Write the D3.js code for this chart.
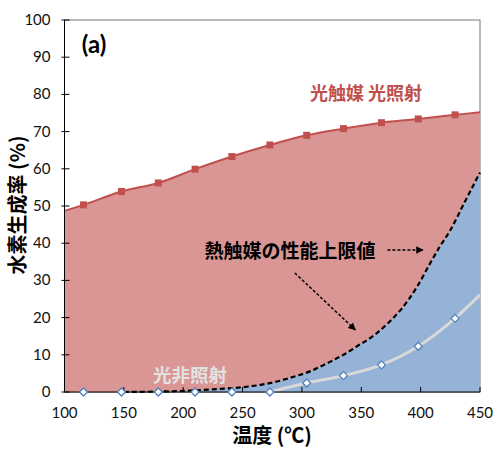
<!DOCTYPE html>
<html>
<head>
<meta charset="utf-8">
<script src="https://cdn.jsdelivr.net/npm/d3@7"></script>
<style>
  body { margin: 0; background: #fff; }
  svg { display: block; }
  .tick-label { font-family: Lato, "Noto Sans", sans-serif; font-size: 15px; fill: #111; }
  .jp { font-family: "Noto Sans CJK JP", sans-serif; font-weight: bold; }
</style>
</head>
<body>
<svg id="chart" width="500" height="451"></svg>
<script>
// measured points (temperature, °C)
const temps = [116, 148, 179, 210, 241, 273, 304, 335, 367, 398, 429];
const photoLight = [50.3, 53.9, 56.2, 59.9, 63.3, 66.4, 69.0, 70.8, 72.4, 73.4, 74.5];
const photoDark = [0, 0, 0, 0, 0, 0, 2.4, 4.4, 7.3, 12.3, 19.8];

// fitted curve ends at the plot edges
const lightStart = 48.7;
const lightEnd = 75.2;
const darkEnd = 26.1;

// thermal catalyst upper limit (dashed curve)
const limitT = [150, 175, 200, 225, 250, 265, 280, 293, 308, 321, 335, 346, 363, 375, 383, 397, 408, 416, 425, 437, 450];
const limitV = [0, 0.1, 0.3, 0.7, 1.3, 1.9, 2.9, 4.1, 5.7, 7.7, 10, 12.2, 15.8, 19.3, 22, 28.3, 34.6, 39, 43.5, 51, 59];

const xTicks = [100, 150, 200, 250, 300, 350, 400, 450];
const yTicks = [0, 10, 20, 30, 40, 50, 60, 70, 80, 90, 100];

const svg = d3.select('#chart');
const plotL = 64.5, plotR = 480, plotT = 20, plotB = 392;

const x = d3.scaleLinear().domain([100, 450]).range([plotL, plotR]);
const y = d3.scaleLinear().domain([0, 100]).range([plotB, plotT]);

const lightCurve = [[100, lightStart]].concat(temps.map((t, i) => [t, photoLight[i]]), [[450, lightEnd]]);
const darkCurve = temps.map((t, i) => [t, photoDark[i]]).filter((d, i) => i >= 5).concat([[450, darkEnd]]);
const limitCurve = limitT.map((t, i) => [t, limitV[i]]);

// frame
svg.append('rect')
	.attr('x', plotL).attr('y', plotT)
	.attr('width', plotR - plotL).attr('height', plotB - plotT)
	.attr('fill', 'none')
	.attr('stroke', '#777')
	.attr('stroke-width', 1);

// red area
svg.append('path')
	.datum(lightCurve)
	.attr('fill', '#d99694')
	.attr('d', d3.area().x(d => x(d[0])).y0(y(0)).y1(d => y(d[1])).curve(d3.curveCatmullRom));

svg.append('path')
	.datum(lightCurve)
	.attr('fill', 'none')
	.attr('stroke', '#c0504d')
	.attr('stroke-width', 2)
	.attr('d', d3.line().x(d => x(d[0])).y(d => y(d[1])).curve(d3.curveCatmullRom));

// blue area under the limit
svg.append('path')
	.datum(limitCurve)
	.attr('fill', '#95b3d7')
	.attr('d', d3.area().x(d => x(d[0])).y0(y(0)).y1(d => y(d[1])).curve(d3.curveMonotoneX));

svg.append('path')
	.datum(limitCurve)
	.attr('fill', 'none')
	.attr('stroke', '#000')
	.attr('stroke-width', 2.2)
	.attr('stroke-dasharray', '5,3')
	.attr('d', d3.line().x(d => x(d[0])).y(d => y(d[1])).curve(d3.curveMonotoneX));

svg.append('path')
	.datum(darkCurve)
	.attr('fill', 'none')
	.attr('stroke', '#d9d9d9')
	.attr('stroke-width', 3)
	.attr('d', d3.line().x(d => x(d[0])).y(d => y(d[1])).curve(d3.curveMonotoneX));

// axes
const yAxis = svg.append('g').attr('transform', 'translate(' + plotL + ',0)');
yAxis.append('line')
	.attr('y1', plotT).attr('y2', plotB)
	.attr('stroke', '#000');
yAxis.selectAll('.yt')
	.data(yTicks)
	.enter()
	.append('line')
	.attr('x1', -3).attr('x2', 5)
	.attr('y1', d => y(d)).attr('y2', d => y(d))
	.attr('stroke', '#000');
yAxis.selectAll('text')
	.data(yTicks)
	.enter()
	.append('text')
	.attr('class', 'tick-label')
	.attr('x', -14)
	.attr('y', d => y(d) + 5)
	.attr('text-anchor', 'end')
	.text(d => d);

const xAxis = svg.append('g').attr('transform', 'translate(0,' + plotB + ')');
xAxis.append('line')
	.attr('x1', plotL).attr('x2', plotR)
	.attr('stroke', '#000');
xAxis.selectAll('.xt')
	.data(xTicks)
	.enter()
	.append('line')
	.attr('x1', d => x(d)).attr('x2', d => x(d))
	.attr('y1', 0).attr('y2', -5)
	.attr('stroke', '#000');
xAxis.selectAll('text')
	.data(xTicks)
	.enter()
	.append('text')
	.attr('class', 'tick-label')
	.attr('x', d => x(d))
	.attr('y', 26)
	.attr('text-anchor', 'middle')
	.text(d => d);

// markers
svg.selectAll('.sq')
	.data(temps)
	.enter()
	.append('rect')
	.attr('x', d => x(d) - 3.5)
	.attr('y', (d, i) => y(photoLight[i]) - 3.5)
	.attr('width', 7).attr('height', 7)
	.attr('fill', '#c0504d');

svg.selectAll('.dm')
	.data(temps)
	.enter()
	.append('path')
	.attr('transform', (d, i) => 'translate(' + x(d) + ',' + y(photoDark[i]) + ')')
	.attr('d', 'M0,-4L4,0L0,4L-4,0Z')
	.attr('fill', '#fff')
	.attr('stroke', '#4f81bd')
	.attr('stroke-width', 1.3);

// annotations
svg.append('defs').append('marker')
	.attr('id', 'arr')
	.attr('viewBox', '0 0 10 10')
	.attr('refX', 9).attr('refY', 5)
	.attr('markerWidth', 5).attr('markerHeight', 5)
	.attr('orient', 'auto')
	.append('path')
	.attr('d', 'M0,0L10,5L0,10Z')
	.attr('fill', '#000');

svg.append('line')
	.attr('x1', x(372)).attr('y1', y(38.2))
	.attr('x2', x(402)).attr('y2', y(38.2))
	.attr('stroke', '#000').attr('stroke-width', 1.5)
	.attr('stroke-dasharray', '3,2')
	.attr('marker-end', 'url(#arr)');

svg.append('line')
	.attr('x1', x(294)).attr('y1', y(32))
	.attr('x2', x(345)).attr('y2', y(16.7))
	.attr('stroke', '#000').attr('stroke-width', 1.5)
	.attr('stroke-dasharray', '3,2')
	.attr('marker-end', 'url(#arr)');

svg.append('text')
	.attr('x', 94).attr('y', 53)
	.attr('text-anchor', 'middle')
	.style('font-family', 'Lato, sans-serif')
	.style('font-weight', 'bold')
	.style('font-size', '24px')
	.text('(a)');

svg.append('text')
	.attr('class', 'jp')
	.attr('x', 366).attr('y', 100)
	.attr('text-anchor', 'middle')
	.style('font-size', '18px')
	.attr('fill', '#c0504d')
	.text('光触媒 光照射');

svg.append('text')
	.attr('class', 'jp')
	.attr('x', 290).attr('y', 258)
	.attr('text-anchor', 'middle')
	.style('font-size', '19px')
	.attr('fill', '#000')
	.text('熱触媒の性能上限値');

svg.append('text')
	.attr('class', 'jp')
	.attr('x', 190).attr('y', 382)
	.attr('text-anchor', 'middle')
	.style('font-size', '18.5px')
	.attr('fill', '#e2e2e2')
	.text('光非照射');

svg.append('text')
	.attr('class', 'jp')
	.attr('x', 272).attr('y', 443)
	.attr('text-anchor', 'middle')
	.style('font-size', '20px')
	.text('温度 (℃)');

svg.append('text')
	.attr('class', 'jp')
	.attr('transform', 'translate(25,205) rotate(-90)')
	.attr('text-anchor', 'middle')
	.style('font-size', '20px')
	.text('水素生成率 (%)');
</script>
</body>
</html>
